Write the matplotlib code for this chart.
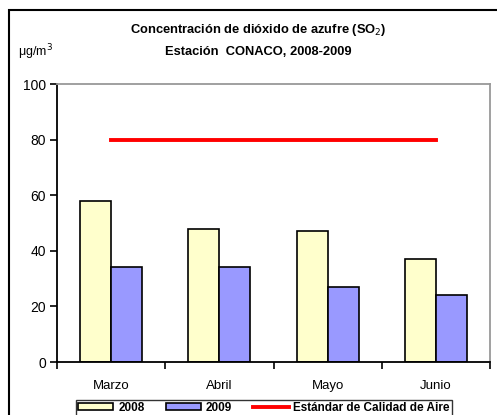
import matplotlib
matplotlib.use("Agg")
import matplotlib.pyplot as plt
from matplotlib.patches import Rectangle
import numpy as np

categories = ["Marzo", "Abril", "Mayo", "Junio"]
values_2008 = [58, 48, 47, 37]
values_2009 = [34, 34, 27, 24]
standard = [80, 80, 80, 80]
yticks = [0, 20, 40, 60, 80, 100]

plt.rcParams['font.family'] = ['Liberation Sans', 'DejaVu Sans']

W, H = 497, 415
fig = plt.figure(figsize=(W/100, H/100), dpi=100)
ax = fig.add_axes([57/W, 1-362/H, 433/W, 278/H])

x = np.arange(len(categories))
bw = 0.286
b1 = ax.bar(x - bw/2, values_2008, bw, color='#FFFFCC', edgecolor='black', linewidth=1.2, label='2008', zorder=2)
b2 = ax.bar(x + bw/2, values_2009, bw, color='#9999FF', edgecolor='black', linewidth=1.2, label='2009', zorder=2)
l1, = ax.plot(x, standard, color='#FF0000', linewidth=2.8, label='Estándar de Calidad de Aire', zorder=3)

ax.set_xlim(-0.5, len(categories) - 0.5)
ax.set_ylim(0, 100)
ax.set_yticks(yticks)
ax.set_yticklabels([str(v) for v in yticks], fontsize=10)
ax.set_xticks(x)
ax.set_xticklabels(categories, fontsize=9.5)
ax.set_xticks(np.arange(-0.5, len(categories)), minor=True)
ax.tick_params(axis='x', which='major', length=0, pad=13)
ax.tick_params(axis='x', which='minor', length=5, width=1.2, direction='out')
ax.tick_params(axis='y', length=5, width=1.2, direction='out', pad=3)
for s in ['left', 'bottom']:
    ax.spines[s].set_color('black')
    ax.spines[s].set_linewidth(1.3)
for s in ['top', 'right']:
    ax.spines[s].set_color('#999999')
    ax.spines[s].set_linewidth(1.3)

fig.text(258/W, 1-30/H, 'Concentración de dióxido de azufre (SO$_2$)', ha='center', va='center',
         fontsize=9.3, fontweight='bold')
fig.text(258/W, 1-52/H, 'Estación  CONACO, 2008-2009', ha='center', va='center',
         fontsize=9.3, fontweight='bold')
fig.text(18/W, 1-52/H, 'μg/m$^3$', ha='left', va='center', fontsize=9)

# outer chart border
fig.patches.append(Rectangle((9/W, -0.1), 1.2, 1.1 - 10/H, transform=fig.transFigure,
                             fill=False, edgecolor='black', linewidth=1.5))

leg = fig.legend([b1, b2, l1], ['2008', '2009', 'Estándar de Calidad de Aire'],
                 loc='upper center', bbox_to_anchor=(264/W, 1-400/H),
                 ncol=3, frameon=True, fancybox=False, edgecolor='black',
                 prop={'weight': 'bold', 'size': 8.5}, handlelength=3.0, handleheight=0.6,
                 columnspacing=1.8, handletextpad=0.4, borderpad=0.15, borderaxespad=0)
leg.get_frame().set_linewidth(1.0)

fig.savefig('out.png', dpi=100)
